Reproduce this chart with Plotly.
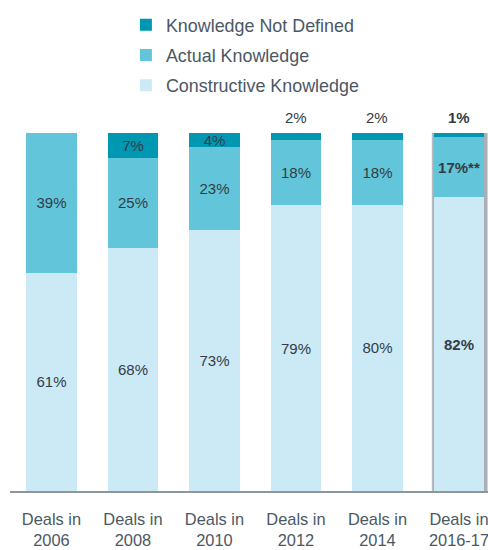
import plotly.graph_objects as go

categories = ["Deals in<br>2006", "Deals in<br>2008", "Deals in<br>2010",
              "Deals in<br>2012", "Deals in<br>2014", "Deals in<br>2016-17"]
constructive = [61, 68, 73, 79, 80, 82]
actual = [39, 25, 23, 18, 18, 17]
not_defined = [0, 7, 4, 2, 2, 1]
actual_suffix = ["", "", "", "", "", "**"]

C_ND = "#0097b2"
C_ACT = "#63c5d9"
C_CON = "#cbeaf5"
FONT = "Liberation Sans, Arial, sans-serif"
LABEL_COL = "#333c45"
TEXT_COL = "#4b5864"
last = len(categories) - 1

def fmt(v, i, suffix=""):
    s = f"{v}%{suffix}"
    return f"<b>{s}</b>" if i == last else s

con_text = [fmt(v, i) for i, v in enumerate(constructive)]
act_text = [fmt(v, i, actual_suffix[i]) for i, v in enumerate(actual)]
nd_text = [fmt(v, i) if v > 2 else "" for i, v in enumerate(not_defined)]

fig = go.Figure()
common = dict(width=0.625, textposition="inside", insidetextanchor="middle",
              textangle=0, constraintext="none",
              textfont=dict(family=FONT, size=15, color=LABEL_COL),
              hoverinfo="skip", marker_line_width=0)
fig.add_trace(go.Bar(x=categories, y=constructive, name="Constructive Knowledge",
                     marker_color=C_CON, text=con_text, legendgroup="c",
                     legendrank=3, **common))
fig.add_trace(go.Bar(x=categories, y=actual, name="Actual Knowledge",
                     marker_color=C_ACT, text=act_text, legendgroup="a",
                     legendrank=2, **common))
fig.add_trace(go.Bar(x=categories, y=not_defined, name="Knowledge Not Defined",
                     marker_color=C_ND, text=nd_text, legendgroup="n",
                     legendrank=1, **common))

for i, v in enumerate(not_defined):
    if 0 < v <= 2:
        fig.add_annotation(x=i, y=100, text=fmt(v, i), showarrow=False,
                           xref="x", yref="y",
                           yanchor="bottom", yshift=5,
                           font=dict(family=FONT, size=15, color=LABEL_COL))

# highlight frame around the latest bar
fig.add_shape(type="rect", xref="x", yref="y", layer="below",
              x0=last - 0.335, x1=last + 0.365, y0=0, y1=102.0,
              fillcolor="#d6d9dc", line=dict(width=0))
fig.add_shape(type="rect", xref="x", yref="y", layer="below",
              x0=last - 0.327, x1=last + 0.345, y0=0, y1=101.5,
              fillcolor="#a9afb4", line=dict(width=0))

fig.update_layout(
    width=488, height=550,
    barmode="stack", barnorm="percent",
    margin=dict(l=10, r=0, t=133, b=59, autoexpand=False),
    paper_bgcolor="white", plot_bgcolor="white",
    font=dict(family=FONT, color=TEXT_COL),
    uniformtext=dict(minsize=15, mode="show"),
    legend=dict(traceorder="grouped", tracegroupgap=4,
                xref="container", yref="container", x=0.258, y=0.988,
                xanchor="left", yanchor="top",
                font=dict(family=FONT, size=17.9, color=TEXT_COL),
                bgcolor="rgba(0,0,0,0)"),
    xaxis=dict(type="category", range=[-0.509, 5.356], showline=True,
               linecolor="#8e969c", linewidth=2, tickangle=0, automargin=False,
               ticks="", tickfont=dict(family=FONT, size=16.4, color=TEXT_COL),
               ticklabelstandoff=12, showgrid=False, zeroline=False, fixedrange=True),
    yaxis=dict(range=[0, 100], visible=False, showgrid=False, fixedrange=True,
               automargin=False),
)

fig.write_html(
    "out.html",
    config={"displayModeBar": False},
    post_script="document.body.style.margin='0';document.body.style.overflow='hidden';",
)
